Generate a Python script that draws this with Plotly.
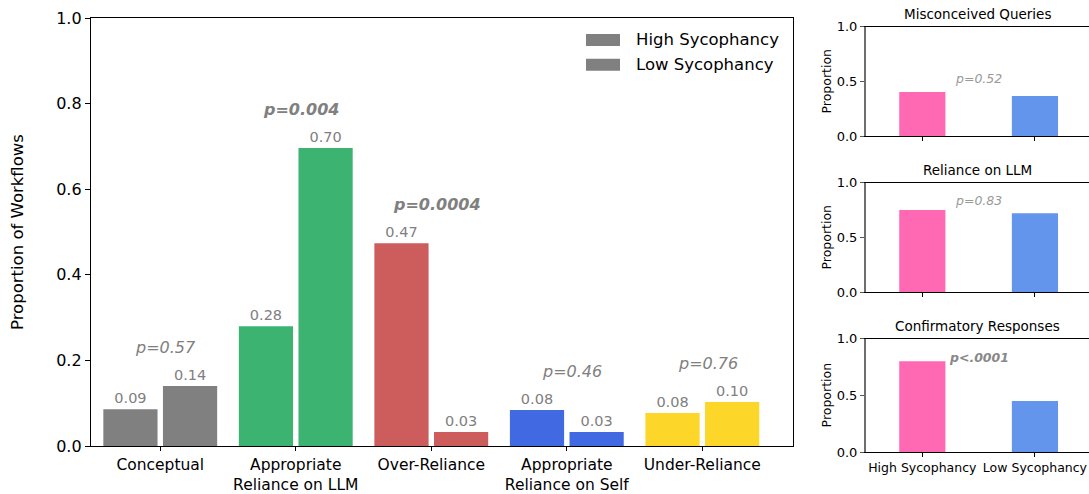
import plotly.graph_objects as go

# ---- main panel data ----
categories = ["Conceptual", "Appropriate<br>Reliance on LLM", "Over-Reliance",
              "Appropriate<br>Reliance on Self", "Under-Reliance"]
high_syco = [0.086, 0.280, 0.474, 0.084, 0.077]
low_syco = [0.140, 0.696, 0.033, 0.033, 0.103]
p_values = ["p=0.57", "p=0.004", "p=0.0004", "p=0.46", "p=0.76"]
p_significant = [False, True, True, False, False]
bar_colors = ["#808080", "#3CB371", "#CD5C5C", "#4169E1", "#FDD62A"]
y_ticks = [0.0, 0.2, 0.4, 0.6, 0.8, 1.0]

# ---- side panels data ----
panel_titles = ["Misconceived Queries", "Reliance on LLM", "Confirmatory Responses"]
groups = ["High Sycophancy", "Low Sycophancy"]
panel_high = [0.404, 0.750, 0.800]
panel_low = [0.367, 0.722, 0.450]
panel_p = ["p=0.52", "p=0.83", "p<.0001"]
panel_p_significant = [False, False, True]
panel_colors = ["#FF69B4", "#6495ED"]
panel_ticks = [0.0, 0.5, 1.0]

FONT = "DejaVu Sans"
W, H = 1089, 494

# layout constants (pixel geometry converted to paper fractions)
def px_x(x):
    return x / W

def px_y(y):
    return 1 - y / H

main_dom_x = [px_x(91), px_x(793)]
main_dom_y = [px_y(446), px_y(18)]
side_dom_x = [px_x(866), 1.0]
side_dom_y = [[px_y(136.3), px_y(26.7)],
              [px_y(292.3), px_y(182.7)],
              [px_y(452.3), px_y(338.5)]]
side_title_y = [px_y(14.5), px_y(170), px_y(326)]
side_p_y = [0.53, 0.84, 0.835]
P_OFFSET = 0.09
BAR_W = 0.40

fig = go.Figure()
xs = list(range(len(categories)))

for vals, name, off in ((high_syco, "High Sycophancy", -0.42),
                        (low_syco, "Low Sycophancy", 0.02)):
    fig.add_trace(go.Bar(
        x=xs, y=vals, name=name,
        width=BAR_W, offset=off,
        marker=dict(color=bar_colors, line=dict(width=0)),
        texttemplate="%{y:.2f}", textposition="outside", constraintext="none",
        textfont=dict(family=FONT, size=14.5, color="#808080"),
        cliponaxis=False, showlegend=False,
        xaxis="x", yaxis="y",
    ))

annotations = []
for i, (p, sig) in enumerate(zip(p_values, p_significant)):
    annotations.append(dict(
        x=i + 0.04, y=max(high_syco[i], low_syco[i]) + P_OFFSET,
        xref="x", yref="y", text=p, showarrow=False,
        xanchor="center", yanchor="middle",
        font=dict(family=FONT, size=16, color="#808080",
                  style="italic", weight="bold" if sig else "normal"),
    ))

# legend drawn as patches + labels
shapes = []
legend_rows = [(34, 46, 40), (58.7, 70.7, 64.7)]
for name, (y0, y1, yc) in zip(groups, legend_rows):
    shapes.append(dict(type="rect", xref="paper", yref="paper",
                       x0=px_x(586), x1=px_x(620), y0=px_y(y1), y1=px_y(y0),
                       fillcolor="#808080", line=dict(width=0)))
    annotations.append(dict(x=px_x(634), y=px_y(yc), xref="paper", yref="paper",
                            text=name, showarrow=False, xanchor="left",
                            yanchor="middle",
                            font=dict(family=FONT, size=16.5, color="#000000")))

# main y title
annotations.append(dict(x=px_x(17), y=px_y(232), xref="paper", yref="paper",
                        text="Proportion of Workflows", textangle=-90,
                        showarrow=False, xanchor="center", yanchor="middle",
                        font=dict(family=FONT, size=16.5, color="#000000")))

layout = dict(
    width=W, height=H, autosize=False,
    margin=dict(l=0, r=0, t=0, b=0, pad=0),
    paper_bgcolor="white", plot_bgcolor="white",
    barmode="overlay",
    xaxis=dict(domain=main_dom_x, range=[-0.511, 4.669],
               tickvals=xs, ticktext=categories, automargin=False,
               showline=True, linecolor="#000000", linewidth=1.3, mirror=True,
               ticks="outside", ticklen=4, tickcolor="#000000",
               showgrid=False, zeroline=False,
               tickfont=dict(family=FONT, size=15.5, color="#000000"),
               anchor="y"),
    yaxis=dict(domain=main_dom_y, range=[0, 1.0], automargin=False,
               tickvals=y_ticks, tickformat=".1f",
               showline=True, linecolor="#000000", linewidth=1.3, mirror=True,
               ticks="outside", ticklen=5, tickcolor="#000000",
               showgrid=False, zeroline=False,
               tickfont=dict(family=FONT, size=16, color="#000000"),
               anchor="x"),
)

for k in range(3):
    xa = f"xaxis{k + 2}"
    ya = f"yaxis{k + 2}"
    xr = f"x{k + 2}"
    yr = f"y{k + 2}"
    fig.add_trace(go.Bar(
        x=[0, 1], y=[panel_high[k], panel_low[k]],
        width=0.41, marker=dict(color=panel_colors, line=dict(width=0)),
        showlegend=False, xaxis=xr, yaxis=yr,
    ))
    layout[xa] = dict(domain=side_dom_x, range=[-0.5, 1.48],
                      tickvals=[0, 1], automargin=False,
                      ticktext=groups, showticklabels=(k == 2),
                      showline=True, linecolor="#000000", linewidth=1.2,
                      mirror=True, ticks="outside", ticklen=4,
                      tickcolor="#000000", showgrid=False, zeroline=False,
                      tickfont=dict(family=FONT, size=12.5, color="#000000"),
                      anchor=yr)
    layout[ya] = dict(domain=side_dom_y[k], range=[0, 1.0], automargin=False,
                      tickvals=panel_ticks, tickformat=".1f",
                      showline=True, linecolor="#6e6e6e", linewidth=2,
                      ticks="outside", ticklen=4, tickcolor="#555555",
                      showgrid=False, zeroline=False,
                      tickfont=dict(family=FONT, size=13, color="#000000"),
                      anchor=xr)
    annotations.append(dict(
        x=px_x(977.5), y=side_title_y[k], xref="paper", yref="paper",
        text=panel_titles[k], showarrow=False, xanchor="center",
        yanchor="middle",
        font=dict(family=FONT, size=13.5, color="#000000")))
    annotations.append(dict(
        x=px_x(826), y=(side_dom_y[k][0] + side_dom_y[k][1]) / 2,
        xref="paper", yref="paper", text="Proportion", textangle=-90,
        showarrow=False, xanchor="center", yanchor="middle",
        font=dict(family=FONT, size=12.5, color="#000000")))
    sig = panel_p_significant[k]
    annotations.append(dict(
        x=0.5, y=side_p_y[k], xref=xr, yref=yr, text=panel_p[k],
        showarrow=False, xanchor="center", yanchor="middle",
        font=dict(family=FONT, size=12.5,
                  color="#888888" if sig else "#999999",
                  style="italic", weight="bold" if sig else "normal")))

layout["annotations"] = annotations
layout["shapes"] = shapes
fig.update_layout(**layout)

fig.write_html("out.html")
